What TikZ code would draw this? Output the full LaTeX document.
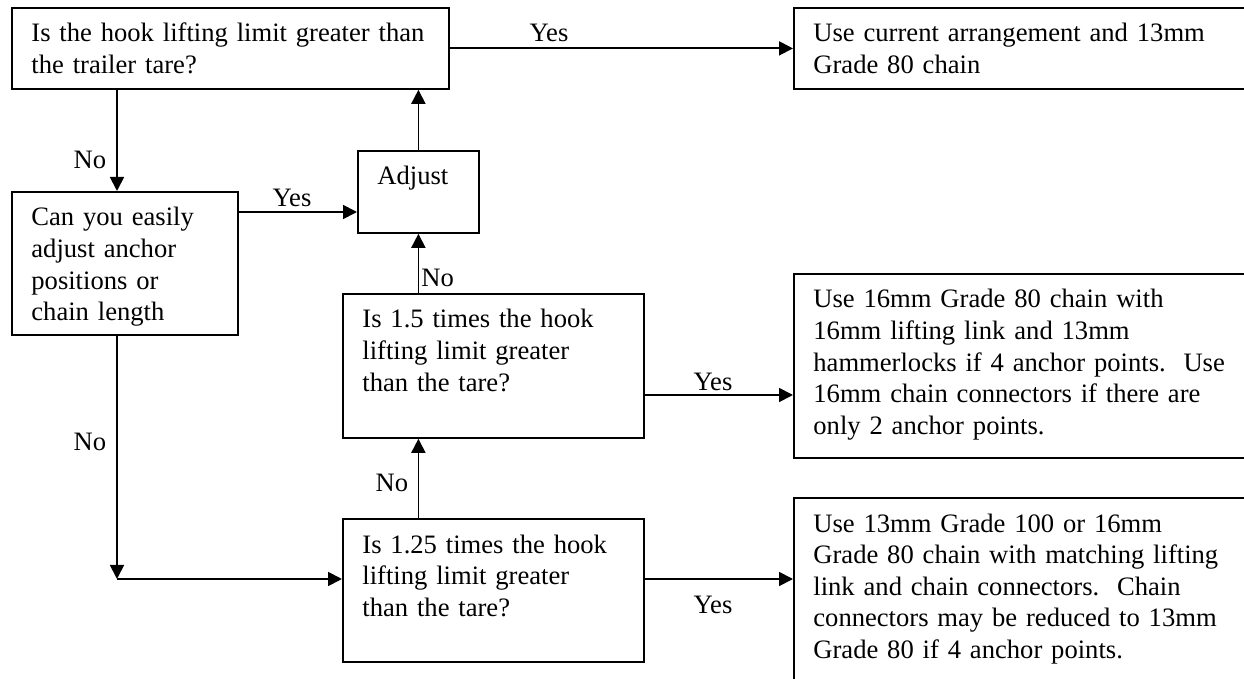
\documentclass[tikz,border=0pt]{standalone}
\usepackage{fontspec}
\setmainfont{Liberation Serif}
\usetikzlibrary{arrows.meta}
\begin{document}
\begin{tikzpicture}[x=0.5pt,y=-0.5pt,
  box/.style={draw, line width=0.9pt, anchor=north west, inner sep=0pt},
  txt/.style={anchor=base west, inner sep=0pt, align=left, text width=240pt,
              font=\fontsize{13.3pt}{15.8pt}\selectfont},
  lbl/.style={inner sep=0pt, font=\fontsize{13.3pt}{15.8pt}\selectfont},
  arr/.style={line width=0.9pt, -{Triangle[length=7pt,width=7pt]}},
  ln/.style={line width=0.9pt}]
\clip (0,0) rectangle (1244,679);
% boxes
\node[box, minimum width=218.5pt, minimum height=40.5pt] (b1) at (11,7) {};
\node[box, minimum width=228.5pt, minimum height=40.5pt] (use1) at (793,7) {};
\node[box, minimum width=113pt, minimum height=71.5pt] (can) at (11,191) {};
\node[box, minimum width=60.5pt, minimum height=41pt] (adj) at (357,150) {};
\node[box, minimum width=150.5pt, minimum height=72pt] (q15) at (342,293) {};
\node[box, minimum width=228.5pt, minimum height=92pt] (use16) at (793,273) {};
\node[box, minimum width=150.5pt, minimum height=71.5pt] (q125) at (342,518) {};
\node[box, minimum width=228.5pt, minimum height=105pt] (use13) at (793,497) {};
% texts
\node[txt] (t1) at ([shift={(10pt,-17.5pt)}]b1.north west) {Is the hook lifting limit greater than\\the trailer tare?};
\node[txt] (tuse1) at ([shift={(10pt,-17.5pt)}]use1.north west) {Use current arrangement and 13mm\\Grade 80 chain};
\node[txt] (tcan) at ([shift={(10pt,-17.5pt)}]can.north west) {Can you easily\\adjust anchor\\positions or\\chain length};
\node[txt] (tadj) at ([shift={(10pt,-17.5pt)}]adj.north west) {Adjust};
\node[txt] (tq15) at ([shift={(10pt,-17.5pt)}]q15.north west) {Is 1.5 times the hook\\lifting limit greater\\than the tare?};
\node[txt] (tuse16) at ([shift={(10pt,-17.5pt)}]use16.north west) {Use 16mm Grade 80 chain with\\16mm lifting link and 13mm\\hammerlocks if 4 anchor points.\ \ Use\\16mm chain connectors if there are\\only 2 anchor points.};
\node[txt] (tq125) at ([shift={(10pt,-17.5pt)}]q125.north west) {Is 1.25 times the hook\\lifting limit greater\\than the tare?};
\node[txt] (tuse13) at ([shift={(10pt,-17.5pt)}]use13.north west) {Use 13mm Grade 100 or 16mm\\Grade 80 chain with matching lifting\\link and chain connectors.\ \ Chain\\connectors may be reduced to 13mm\\Grade 80 if 4 anchor points.};
% helper coordinates
\coordinate (x1) at (117,0);
\coordinate (y1) at (0,212);
\coordinate (y2) at (0,395);
\coordinate (y3) at (0,579);
\coordinate (c1) at (117,579);
% connectors
\draw[arr] (b1.east) -- (use1.west |- b1.east);
\draw[arr] (b1.south -| x1) -- (can.north -| x1);
\draw[arr] (can.east |- y1) -- (adj.west |- y1);
\draw[arr] (adj.north) -- (b1.south -| adj.north);
\draw[arr] (q15.north -| adj.south) -- (adj.south);
\draw[arr] (q15.east |- y2) -- (use16.west |- y2);
\draw[arr] (q125.north -| adj.south) -- (q15.south -| adj.south);
\draw[arr] (q125.east |- y3) -- (use13.west |- y3);
\draw[arr] (can.south -| x1) -- (c1);
\draw[arr] (c1) -- (q125.west |- c1);
% labels
\node[lbl] (l1) at (549,33) {Yes};
\node[lbl] (l2) at (90,160) {No};
\node[lbl] (l3) at (292,198) {Yes};
\node[lbl, anchor=west] (l4) at (421,278) {No};
\node[lbl] (l5) at (713,382) {Yes};
\node[lbl] (l6) at (392,483) {No};
\node[lbl] (l7) at (713,605) {Yes};
\node[lbl] (l8) at (90,442) {No};
\end{tikzpicture}
\end{document}
